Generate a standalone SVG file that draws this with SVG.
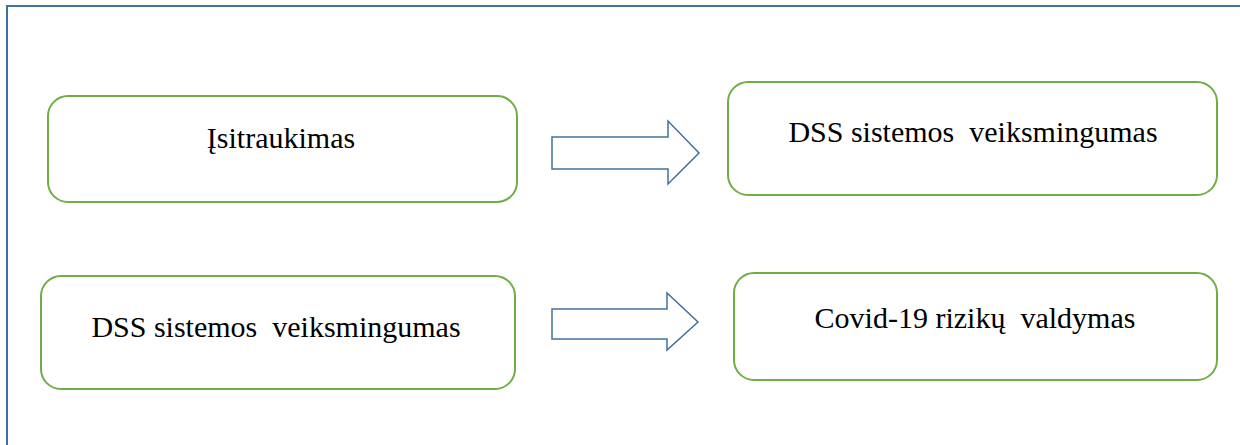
<svg xmlns="http://www.w3.org/2000/svg" width="1240" height="445" viewBox="0 0 1240 445">
<style>
.frame{fill:none;stroke:#41719c;stroke-width:2}
.box{fill:#fff;stroke:#70ad47;stroke-width:2}
.arrow{fill:#fff;stroke:#41719c;stroke-width:1.5}
.lbl{font-family:"Liberation Serif","Times New Roman",serif;font-size:30px;fill:#000;white-space:pre}
</style>
<rect width="1240" height="445" fill="#fff"/>
<rect class="frame" x="7" y="6" width="1250" height="460"/>
<g id="connectors">
<polygon class="arrow" points="552,137 668,137 668,121 699,153 668,184 668,169 552,169"/>
<polygon class="arrow" points="552,309 667,309 667,293 698,322 667,350 667,339 552,339"/>
</g>
<g id="n1">
<rect class="box" x="48" y="96" width="469" height="106" rx="20"/>
<text class="lbl" x="281" y="148" text-anchor="middle">Įsitraukimas</text>
</g>
<g id="n2">
<rect class="box" x="728" y="82" width="489" height="113" rx="20"/>
<text class="lbl" x="973" y="142" text-anchor="middle" xml:space="preserve">DSS sistemos  veiksmingumas</text>
</g>
<g id="n3">
<rect class="box" x="41" y="276" width="474" height="113" rx="20"/>
<text class="lbl" x="276" y="337" text-anchor="middle" xml:space="preserve">DSS sistemos  veiksmingumas</text>
</g>
<g id="n4">
<rect class="box" x="734" y="273" width="483" height="107" rx="20"/>
<text class="lbl" x="975" y="328" text-anchor="middle" xml:space="preserve">Covid-19 rizikų  valdymas</text>
</g>
</svg>
